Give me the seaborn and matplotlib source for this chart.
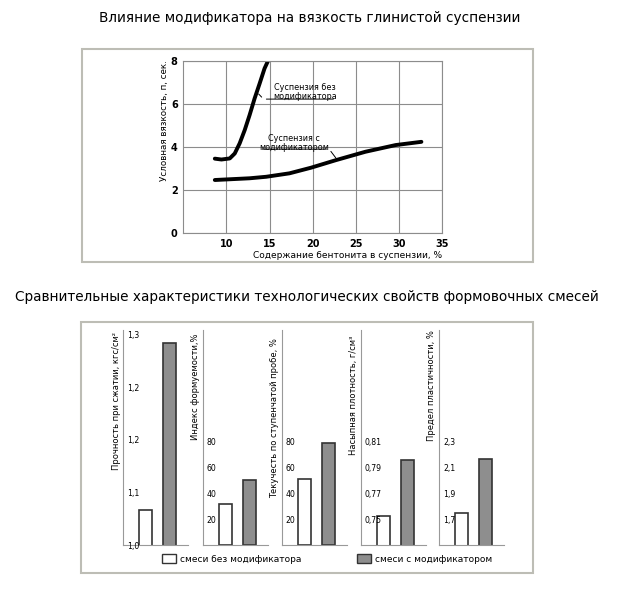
import numpy as np
import pandas as pd
import matplotlib
matplotlib.use("Agg")
import matplotlib.pyplot as plt
from matplotlib import font_manager
from matplotlib.patches import Rectangle, Patch
import seaborn as sns

sns.set_style("white")
plt.rcParams['font.family'] = ['DejaVu Sans']
plt.rcParams['text.color'] = 'black'
plt.rcParams['xtick.color'] = 'black'
plt.rcParams['ytick.color'] = 'black'

installed = {f.name for f in font_manager.fontManager.ttflist}
narrow = 'Liberation Sans Narrow' if 'Liberation Sans Narrow' in installed else 'DejaVu Sans'

# --- верхний график: вязкость суспензии ---
bent_no_mod = [8.65, 9.42, 10.38, 10.96, 11.53, 12.11, 12.68, 13.26, 13.84, 14.41, 14.79]
visc_no_mod = [3.46, 3.42, 3.47, 3.70, 4.17, 4.78, 5.48, 6.25, 6.94, 7.64, 7.97]
bent_mod = [8.65, 12.68, 14.6, 17.3, 19.79, 22.67, 26.1, 29.6, 32.58]
visc_mod = [2.47, 2.55, 2.62, 2.78, 3.04, 3.39, 3.78, 4.09, 4.24]
x_ticks = [10, 15, 20, 25, 30, 35]
y_ticks = [0, 2, 4, 6, 8]

# --- нижний график: свойства формовочных смесей ---
groups = ['смеси без модификатора', 'смеси с модификатором']
strength = [1.05, 1.288]
formability = [31.5, 50.5]
fluidity = [50.9, 79.0]
density = [0.7525, 0.796]
plasticity = [1.75, 2.17]

panel_labels = ['Прочность при сжатии, кгс/см²', 'Индекс формуемости,%',
                'Текучесть по ступенчатой пробе, %', 'Насыпная плотность, г/см³',
                'Предел пластичности, %']
panel_values = [strength, formability, fluidity, density, plasticity]
panel_ylims = [(1.0, 1.307), (0, 166.7), (0, 166.7), (0.73, 0.8967), (1.5, 3.1667)]
panel_ticks = [[1.0, 1.075, 1.15, 1.225, 1.3], [20, 40, 60, 80], [20, 40, 60, 80],
               [0.75, 0.77, 0.79, 0.81], [1.7, 1.9, 2.1, 2.3]]
panel_ticklabels = [['1,0', '1,1', '1,2', '1,2', '1,3'], ['20', '40', '60', '80'],
                    ['20', '40', '60', '80'], ['0,75', '0,77', '0,79', '0,81'],
                    ['1,7', '1,9', '2,1', '2,3']]

W, H = 619, 596
def px(x0, y0, x1, y1):
    return [x0 / W, 1 - y1 / H, (x1 - x0) / W, (y1 - y0) / H]

fig = plt.figure(figsize=(W / 100, H / 100), dpi=100)

# рамки
for (x0, y0, x1, y1) in [(82, 49, 533, 262), (81, 322, 533, 573)]:
    fig.add_artist(Rectangle((x0 / W, 1 - y1 / H), (x1 - x0) / W, (y1 - y0) / H,
                             transform=fig.transFigure, fill=False,
                             edgecolor='#bdbdb5', lw=1.5))

fig.text(0.5, 1 - 18 / H, 'Влияние модификатора на вязкость глинистой суспензии',
         ha='center', va='center', fontsize=9.8)
fig.text(0.496, 1 - 297 / H,
         'Сравнительные характеристики технологических свойств формовочных смесей',
         ha='center', va='center', fontsize=9.8)

ax = fig.add_axes(px(183.3, 60.7, 442.3, 233.3))
sns.lineplot(x=bent_no_mod, y=visc_no_mod, ax=ax, color='black', lw=2.8, sort=False)
sns.lineplot(x=bent_mod, y=visc_mod, ax=ax, color='black', lw=2.8, sort=False)
ax.set_xlim(5, 35)
ax.set_ylim(0, 8)
ax.set_xticks(x_ticks)
ax.set_yticks(y_ticks)
ax.grid(True, color='#8c8c8c', lw=0.8)
for s in ax.spines.values():
    s.set_color('#8c8c8c')
    s.set_linewidth(0.8)
ax.tick_params(length=0, pad=4)
for lab in ax.get_xticklabels() + ax.get_yticklabels():
    lab.set_fontfamily(narrow)
    lab.set_fontweight('bold')
    lab.set_fontsize(7)
ax.text(-0.071, 1.0, 'Условная вязкость, п, сек.', transform=ax.transAxes,
        rotation=90, ha='center', va='top', fontsize=6.3)
ax.text(1.0, -0.13, 'Содержание бентонита в суспензии, %', transform=ax.transAxes,
        ha='right', va='center', fontsize=6.5)

# подписи кривых
ax.text(19.1, 6.57, 'Суспензия без\nмодификатора', ha='center', va='center',
        fontsize=5.8, linespacing=1.0)
ax.annotate('', xy=(13.5, 6.55), xytext=(14.3, 6.22),
            arrowprops=dict(arrowstyle='-', lw=0.7, color='black'))
ax.annotate('', xy=(14.3, 6.22), xytext=(22.7, 6.22),
            arrowprops=dict(arrowstyle='-', lw=0.7, color='black'))
ax.text(17.87, 4.2, 'Суспензия с\nмодификатором', ha='center', va='center',
        fontsize=5.8, linespacing=1.0)
ax.annotate('', xy=(13.84, 3.9), xytext=(21.9, 3.9),
            arrowprops=dict(arrowstyle='-', lw=0.7, color='black'))
ax.annotate('', xy=(21.9, 3.9), xytext=(22.86, 3.39),
            arrowprops=dict(arrowstyle='-', lw=0.7, color='black'))

lefts = [123.3, 202.7, 281.7, 360.7, 439.3]
label_tops = [0.99, 0.985, 0.96, 0.975, 1.0]
for i, left in enumerate(lefts):
    bx = fig.add_axes(px(left, 330, left + 65, 545))
    sns.barplot(x=groups, y=panel_values[i], hue=groups, palette=['white', '#8e8e8e'],
                edgecolor='#333333', linewidth=1.2, width=0.54, legend=False, ax=bx)
    bx.set_axisbelow(False)
    bx.set_xlim(-0.94, 1.78)
    bx.set_ylim(*panel_ylims[i])
    bx.set_xticks([])
    bx.set_xlabel('')
    bx.set_ylabel('')
    bx.set_yticks(panel_ticks[i])
    bx.set_yticklabels(panel_ticklabels[i], fontsize=5.6, fontfamily=narrow)
    for lab in bx.get_yticklabels():
        lab.set_horizontalalignment('left')
    bx.tick_params(axis='y', which='both', direction='in', length=2.2, pad=-3.0,
                   color='#888888', width=0.8)
    if i == 0:
        bx.set_yticks([1.0375, 1.1125, 1.1875, 1.2625], minor=True)
    for s in ['top', 'right']:
        bx.spines[s].set_visible(False)
    for s in ['left', 'bottom']:
        bx.spines[s].set_color('#999999')
        bx.spines[s].set_linewidth(0.8)
    bx.patch.set_alpha(0)
    bx.text(-7.3 / 65, label_tops[i], panel_labels[i], transform=bx.transAxes,
            rotation=90, ha='center', va='top', fontsize=6)

fig.legend(handles=[Patch(facecolor='white', edgecolor='#333333')], labels=[groups[0]],
           loc='center left', bbox_to_anchor=(162 / W, 1 - 559 / H), frameon=False,
           fontsize=6.5, handlelength=1.5, handleheight=1.0, borderpad=0,
           borderaxespad=0, handletextpad=0.5)
fig.legend(handles=[Patch(facecolor='#8e8e8e', edgecolor='#333333')], labels=[groups[1]],
           loc='center left', bbox_to_anchor=(357 / W, 1 - 559 / H), frameon=False,
           fontsize=6.5, handlelength=1.5, handleheight=1.0, borderpad=0,
           borderaxespad=0, handletextpad=0.5)

fig.savefig('out.png', dpi=100)
